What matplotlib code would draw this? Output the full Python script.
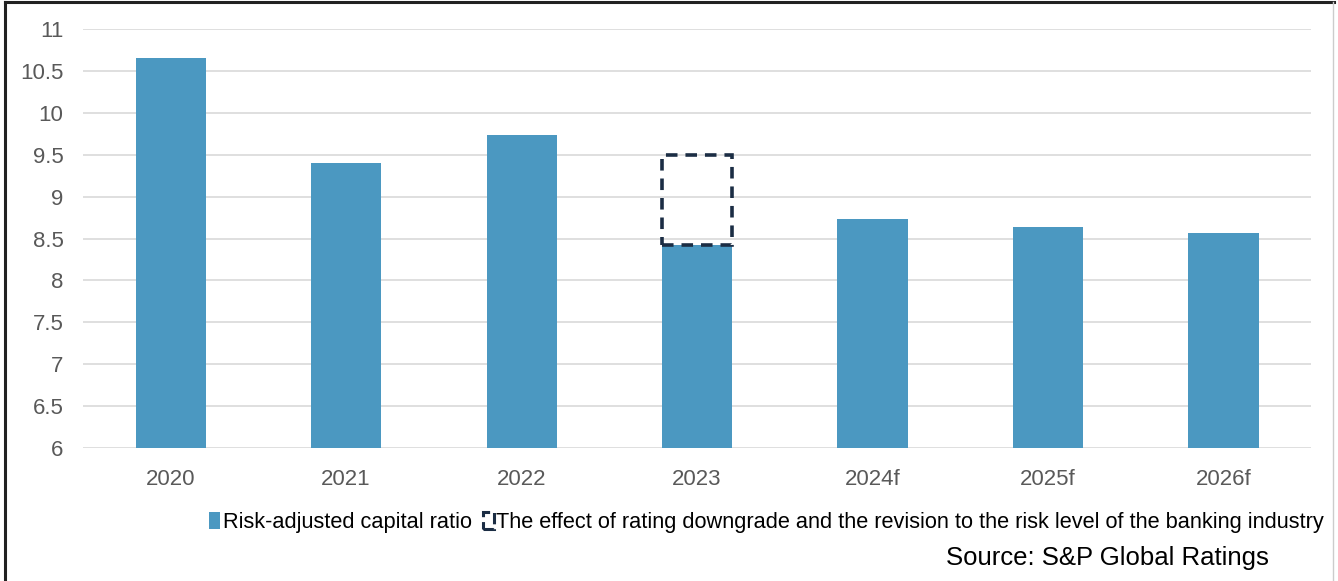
import matplotlib as mpl
from matplotlib import pyplot as plt
from matplotlib.patches import Patch
from matplotlib.lines import Line2D

# chart data
years = ['2020', '2021', '2022', '2023', '2024f', '2025f', '2026f']
rac_ratio = [10.65, 9.40, 9.73, 8.42, 8.73, 8.64, 8.57]
downgrade_year = '2023'
downgrade_before = 9.50   # ratio before the downgrade / risk revision
yticks = [6, 6.5, 7, 7.5, 8, 8.5, 9, 9.5, 10, 10.5, 11]

legend_labels = ['Risk-adjusted capital ratio',
                 'The effect of rating downgrade and the revision to the risk level of the banking industry']
source_text = 'Source: S&P Global Ratings'

BAR = '#4b98c1'
DASH = '#1b2d44'
GRID = '#d9d9d9'
TICK = '#595959'

mpl.rcParams.update({'font.family': ['Liberation Sans', 'DejaVu Sans']})

fig = plt.figure(figsize=(13.38, 5.81), dpi=100)
ax = fig.add_axes([0.062, 0.229, 0.918, 0.721])

x = list(range(len(years)))
ax.bar(x, [v - 6 for v in rac_ratio], bottom=6, width=0.4, color=BAR, zorder=2)

# dashed box showing the drop in 2023
i = years.index(downgrade_year)
ax.bar(i, downgrade_before - rac_ratio[i], bottom=rac_ratio[i], width=0.4,
       fill=False, edgecolor=DASH, linewidth=2.6, linestyle=(0, (3.2, 2.2)),
       zorder=3)

ax.set_ylim(6, 11)
ax.set_xlim(-0.5, len(years) - 0.5)
ax.set_yticks(yticks)
ax.set_yticklabels(['%g' % t for t in yticks])
ax.set_xticks(x)
ax.set_xticklabels(years)
ax.yaxis.grid(True, color=GRID, linewidth=1.2, zorder=0)
ax.set_axisbelow(True)
for s in ax.spines.values():
    s.set_visible(False)
ax.tick_params(axis='both', length=0, colors=TICK, labelsize=16)
ax.tick_params(axis='y', pad=14)
ax.tick_params(axis='x', pad=15)

handles = [Patch(facecolor=BAR, edgecolor='none'),
           Patch(facecolor='none', edgecolor=DASH, linewidth=2.2, linestyle='--')]
fig.legend(handles, legend_labels, loc='center', bbox_to_anchor=(0.573, 0.101),
           ncol=2, frameon=False, fontsize=15.7, handlelength=0.5,
           handleheight=0.85, handletextpad=0.12, columnspacing=0.5)

fig.text(0.948, 0.040, source_text, ha='right', va='center', fontsize=18.5,
         color='black')

# outer frame of the screenshot
fig.add_artist(Line2D([0.004, 0.004], [0.0, 0.997], color='#222222', linewidth=2.2))
fig.add_artist(Line2D([0.004, 0.997], [0.997, 0.997], color='#222222', linewidth=2.2))
fig.add_artist(Line2D([0.996, 0.996], [0.0, 0.997], color='#cccccc', linewidth=1))

plt.savefig('out.png', dpi=100)
